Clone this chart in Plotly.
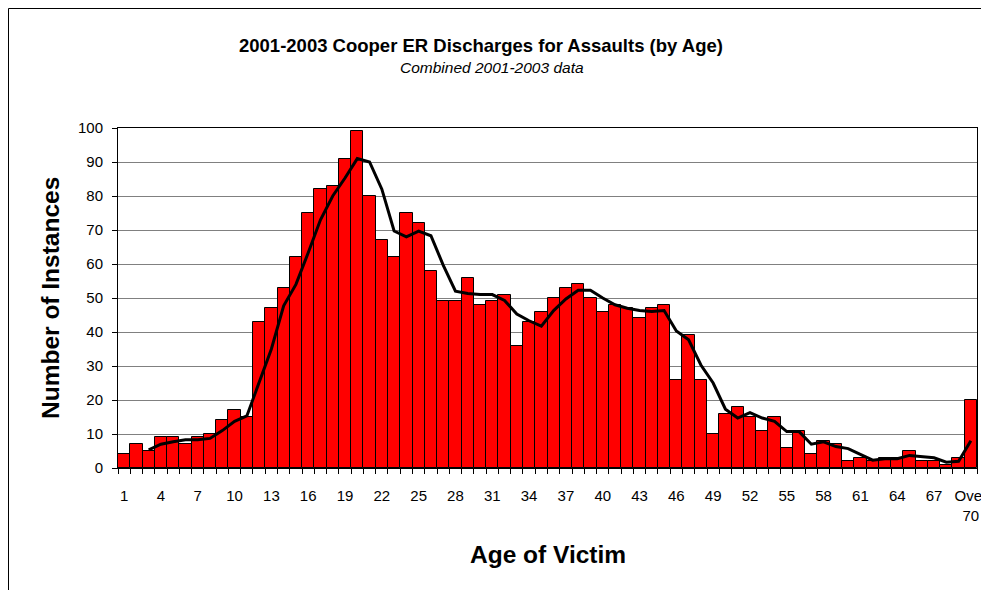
import plotly.graph_objects as go

# ---- data ----
categories = [str(i) for i in range(1, 70)] + ["Over 70"]

counts = [4, 7, 5, 9, 9, 7, 9, 10, 14, 17,
          15, 43, 47, 53, 62, 75, 82, 83, 91, 99,
          80, 67, 62, 75, 72, 58, 49, 49, 56, 48,
          49, 51, 36, 43, 46, 50, 53, 54, 50, 46,
          48, 47, 44, 47, 48, 26, 39, 26, 10, 16,
          18, 15, 11, 15, 6, 11, 4, 8, 7, 2,
          3, 2, 3, 3, 5, 2, 2, 1, 3, 20]

# moving-average trend line (starts at the 3rd category)
trend_categories = categories[2:]
trend = [5.3, 7.0, 7.7, 8.3, 8.3, 8.7, 11.0, 13.7, 15.3, 25.0,
         35.0, 47.7, 54.0, 63.3, 73.0, 80.0, 85.3, 91.0, 90.0, 82.0,
         69.7, 68.0, 69.7, 68.3, 59.7, 52.0, 51.3, 51.0, 51.0, 49.3,
         45.3, 43.3, 41.7, 46.3, 49.7, 52.3, 52.3, 50.0, 48.0, 47.0,
         46.3, 46.0, 46.3, 40.3, 37.7, 30.3, 25.0, 17.3, 14.7, 16.3,
         14.7, 13.7, 10.7, 10.7, 7.0, 7.7, 6.3, 5.7, 4.0, 2.3,
         2.7, 2.7, 3.7, 3.3, 3.0, 1.7, 2.0, 8.0]

tick_labels = [c if i % 3 == 0 else "" for i, c in enumerate(categories)]
tick_labels[-1] = "Over<br>70"

title_text = "2001-2003 Cooper ER Discharges for Assaults (by Age)"
subtitle_text = "Combined 2001-2003 data"
y_title = "Number of Instances"
x_title = "Age of Victim"

# ---- layout geometry (page has an 8px body margin) ----
OFF = 8
W, H = 989 - OFF, 590 - OFF
L, R, T, B = 110, 12, 120, 122
PW, PH = W - L - R, H - T - B


def px(x):
    """screen x -> paper x"""
    return (x - OFF - L) / PW


def py(y):
    """screen y -> paper y"""
    return (H - B - (y - OFF)) / PH


FONT = "Liberation Sans, Arial, sans-serif"

fig = go.Figure()
fig.add_trace(go.Bar(
    x=categories, y=counts,
    marker=dict(color="#FF0000", line=dict(color="black", width=1)),
    showlegend=False, hoverinfo="x+y",
))
fig.add_trace(go.Scatter(
    x=trend_categories, y=trend, mode="lines",
    line=dict(color="black", width=3),
    showlegend=False,
))

fig.update_layout(
    width=W, height=H, autosize=False,
    margin=dict(l=L, r=R, t=T, b=B, pad=0),
    paper_bgcolor="white", plot_bgcolor="white",
    bargap=0,
    font=dict(family=FONT, size=15, color="black"),
    xaxis=dict(
        type="category",
        tickmode="array", tickvals=categories, ticktext=tick_labels,
        tickson="boundaries", ticks="outside", ticklen=5, tickcolor="black",
        tickwidth=1, tickangle=0,
        showline=True, linecolor="black", linewidth=1, mirror=True,
        showgrid=False, zeroline=False, automargin=False,
        ticklabelstandoff=14,
        tickfont=dict(family=FONT, size=15, color="black"),
    ),
    yaxis=dict(
        range=[0, 100], dtick=10, tick0=0,
        ticks="outside", ticklen=5, tickcolor="black", tickwidth=1,
        showline=True, linecolor="black", linewidth=1, mirror=True,
        showgrid=True, gridcolor="#808080", gridwidth=1,
        zeroline=False, automargin=False,
        ticklabelstandoff=6,
        tickfont=dict(family=FONT, size=15, color="black"),
    ),
    shapes=[dict(
        type="rect", xref="paper", yref="paper",
        x0=px(8.5), x1=px(1010), y0=py(620), y1=py(8.5),
        line=dict(color="black", width=1), fillcolor="rgba(0,0,0,0)",
        layer="below",
    )],
    annotations=[
        dict(text="<b>" + title_text + "</b>", xref="paper", yref="paper",
             x=px(481), y=py(45), xanchor="center", yanchor="middle",
             showarrow=False, font=dict(family=FONT, size=18.5, color="black")),
        dict(text="<i>" + subtitle_text + "</i>", xref="paper", yref="paper",
             x=px(492), y=py(68), xanchor="center", yanchor="middle",
             showarrow=False, font=dict(family=FONT, size=15.5, color="black")),
        dict(text="<b>" + y_title + "</b>", xref="paper", yref="paper",
             x=px(50), y=py(298), xanchor="center", yanchor="middle",
             textangle=-90, showarrow=False,
             font=dict(family=FONT, size=24.5, color="black")),
        dict(text="<b>" + x_title + "</b>", xref="paper", yref="paper",
             x=px(548), y=py(554), xanchor="center", yanchor="middle",
             showarrow=False, font=dict(family=FONT, size=24.5, color="black")),
    ],
)

fig.write_html("out.html")
